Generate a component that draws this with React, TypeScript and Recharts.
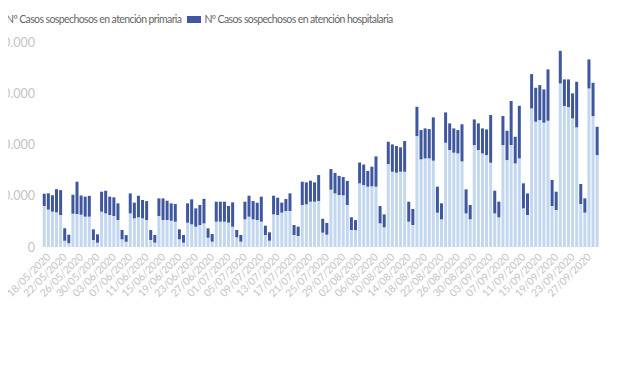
import React from "react";
import { BarChart, Bar, XAxis, YAxis } from "recharts";

const startDate = { y: 2020, m: 4, d: 18 };
const dayCount = 136;
const categories: string[] = [];
for (let i = 0; i < dayCount; i++) {
  const dt = new Date(Date.UTC(startDate.y, startDate.m, startDate.d + i));
  const dd = String(dt.getUTCDate()).padStart(2, "0");
  const mm = String(dt.getUTCMonth() + 1).padStart(2, "0");
  categories.push(`${dd}/${mm}/${dt.getUTCFullYear()}`);
}

const primaria = [
  8000, 7300, 6900, 6760, 6240, 1200, 720,
  6500, 6430, 6300, 5920, 5920, 1360, 850,
  6890, 6560, 6240, 6050, 5260, 1500, 1030,
  6560, 5590, 5790, 5590, 5260, 1360, 850,
  6050, 5260, 5260, 5130, 4940, 1500, 850,
  4740, 4420, 3960, 4290, 4610, 1800, 1040,
  4940, 4940, 4940, 4750, 3960, 1890, 1040,
  5400, 5910, 5400, 5260, 4940, 2340, 1230,
  6370, 6240, 6700, 7020, 7020, 2340, 2150,
  8190, 8320, 8840, 8840, 8970, 2800, 2400,
  11180, 10460, 10140, 10080, 8190, 3310, 3300,
  12420, 12090, 11770, 11830, 11770, 4610, 3840,
  16180, 14690, 14500, 14690, 14690, 4940, 4290,
  21640, 17100, 17290, 17290, 16840, 6700, 5400,
  20340, 18920, 18400, 18260, 16700, 6560, 5400,
  19890, 18920, 18260, 17940, 16450, 6560, 5790,
  19890, 16960, 19890, 16310, 17290, 7540, 6240,
  27040, 24440, 24760, 24250, 24640, 8000, 7210,
  31910, 27500, 27300, 25090, 23340, 8390, 6700,
  30940, 25540, 17940,
];

const hospitalaria = [
  2400, 3170, 3200, 4520, 4860, 2470, 1680,
  3700, 6310, 3750, 3900, 4060, 2080, 1620,
  3900, 4420, 3580, 3640, 3250, 1820, 1300,
  3900, 3060, 4220, 3580, 3700, 1950, 1500,
  3440, 4230, 3770, 3380, 3440, 1950, 1500,
  3780, 4880, 3580, 3900, 4790, 1840, 1500,
  3900, 3900, 3900, 3250, 4750, 1430, 1300,
  3440, 4100, 3570, 3380, 4880, 1820, 1630,
  3640, 3380, 1950, 2340, 3450, 1950, 1820,
  4550, 4290, 4100, 3770, 5070, 2700, 2300,
  4030, 4000, 3740, 3570, 4710, 2490, 1950,
  4060, 4000, 3080, 3840, 5910, 3380, 2530,
  4360, 5330, 5200, 4750, 5980, 3900, 3120,
  5720, 5720, 5850, 5720, 8450, 5070, 3120,
  5920, 5200, 4740, 4550, 7250, 4680, 2800,
  5000, 5200, 4880, 5000, 9300, 4420, 3050,
  5660, 5720, 8580, 5200, 10270, 4880, 4220,
  6700, 6630, 6830, 6500, 10010, 5070, 3580,
  6370, 5200, 5400, 4880, 8900, 3900, 2800,
  5660, 6500, 5520,
];

const yTicks = [0, 10000, 20000, 30000, 40000];
const seriesNames = [
  "Nº Casos sospechosos en atención primaria",
  "Nº Casos sospechosos en atención hospitalaria",
];
const colorLight = "#c3d7ee";
const colorDark = "#3e579e";

const data = categories.map((c, i) => ({
  fecha: c,
  primaria: primaria[i],
  hospitalaria: hospitalaria[i],
}));

const font = "Lato, 'Open Sans', sans-serif";

const fmt = (v: number) => v.toLocaleString("de-DE");

const XTick = (props: any) => {
  const { x, y, payload } = props;
  return (
    <g transform={`translate(${x},${y})`}>
      <text
        x={0}
        y={0}
        dx={3}
        dy={7}
        textAnchor="end"
        transform="rotate(-45)"
        fill="#c4c4c4"
        fontSize={10.5}
        letterSpacing={-0.2}
        fontFamily={font}
      >
        {payload.value}
      </text>
    </g>
  );
};

const YTick = (props: any) => {
  const { y, payload } = props;
  return (
    <text
      x={35}
      y={y}
      dy={4.5}
      textAnchor="end"
      fill="#c4c4c4"
      fontSize={12.5}
      fontFamily={font}
    >
      {fmt(payload.value)}
    </text>
  );
};

export default function App() {
  return (
    <div style={{ position: "relative", width: 620, height: 368, margin: "-8px 0 0 -8px", overflow: "hidden", background: "#fff" }}>
      <div
        style={{
          position: "absolute",
          top: 13,
          left: -12,
          display: "flex",
          alignItems: "center",
          fontFamily: font,
          fontSize: 10.5,
          letterSpacing: -0.6,
          color: "#666",
          whiteSpace: "nowrap",
        }}
      >
        {seriesNames.map((n, i) => (
          <span key={n} style={{ display: "flex", alignItems: "center", marginRight: 6 }}>
            <span
              style={{
                display: "inline-block",
                width: 14,
                height: 7,
                background: i === 0 ? colorLight : colorDark,
                marginRight: i === 0 ? 4 : 3,
              }}
            />
            {n}
          </span>
        ))}
      </div>
      <BarChart
        width={620}
        height={368}
        data={data}
        margin={{ top: 42, right: 21, left: 0, bottom: 51 }}
        barCategoryGap="18%"
      >
        <XAxis
          dataKey="fecha"
          interval={3}
          tick={<XTick />}
          tickLine={false}
          axisLine={false}
          height={70}
        />
        <YAxis
          domain={[0, 40000]}
          ticks={yTicks}
          tick={<YTick />}
          tickLine={false}
          axisLine={false}
          width={42}
        />
        <Bar dataKey="primaria" stackId="a" fill={colorLight} isAnimationActive={false} />
        <Bar dataKey="hospitalaria" stackId="a" fill={colorDark} isAnimationActive={false} />
      </BarChart>
    </div>
  );
}
